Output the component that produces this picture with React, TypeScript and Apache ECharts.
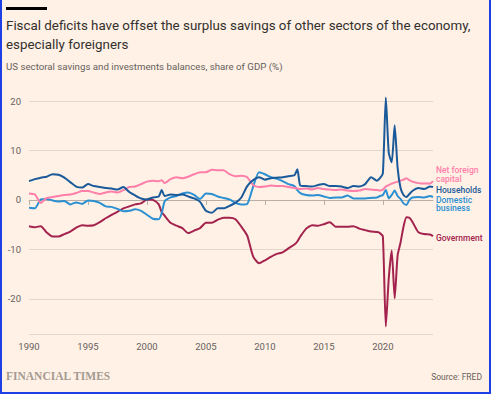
import React, { useEffect, useRef } from "react";
import * as echarts from "echarts";

const dates = [
  1990, 1990.5, 1991, 1991.5, 1992, 1992.5, 1993, 1993.5, 1994, 1994.5,
  1995, 1995.5, 1996, 1996.5, 1997, 1997.5, 1998, 1998.5, 1999, 1999.5,
  2000, 2000.5, 2001, 2001.25, 2001.5, 2002, 2002.5, 2003, 2003.5, 2004,
  2004.5, 2005, 2005.5, 2006, 2006.5, 2007, 2007.5, 2008, 2008.5, 2009,
  2009.5, 2010, 2010.5, 2011, 2011.5, 2012, 2012.5, 2012.75, 2013, 2013.5,
  2014, 2014.5, 2015, 2015.5, 2016, 2016.5, 2017, 2017.5, 2018, 2018.5,
  2019, 2019.5, 2019.75, 2020, 2020.25, 2020.5, 2020.75, 2021, 2021.25, 2021.5,
  2021.75, 2022, 2022.25, 2022.5, 2023, 2023.5, 2024, 2024.25,
];

const households = [
  3.8, 4.2, 4.5, 4.7, 5.2, 5.1, 4.5, 3.6, 2.7, 2.5,
  3.2, 2.8, 2.6, 2.4, 2.3, 2.1, 2.6, 1.6, 0.9, 0.3,
  0.1, 0.5, 0.7, 2.0, 0.8, 1.1, 1.0, 1.1, 0.7, 0.3,
  -0.4, -2.2, -2.6, -1.7, -1.7, -1.2, -0.6, 0.5, 2.8, 4.0,
  4.6, 4.1, 4.4, 4.5, 4.6, 4.8, 5.0, 6.2, 2.9, 2.8,
  2.7, 3.0, 3.2, 2.8, 2.8, 2.7, 2.4, 2.8, 2.7, 3.2,
  4.6, 3.9, 4.4, 5.4, 20.7, 9.5, 7.6, 15.1, 6.5, 2.4,
  1.0, 0.6, 1.2, 1.8, 2.4, 2.2, 2.7, 2.6,
];

const foreignCapital = [
  1.3, 1.1, -0.6, 0.4, 0.6, 0.8, 1.0, 1.1, 1.4, 1.8,
  1.8, 1.5, 1.2, 1.5, 1.7, 1.5, 2.0, 2.6, 2.7, 3.2,
  3.7, 3.9, 3.8, 4.0, 3.4, 4.2, 4.6, 4.4, 4.7, 5.2,
  5.6, 5.6, 6.1, 6.0, 6.0, 5.2, 4.8, 4.9, 4.6, 3.0,
  2.6, 2.7, 2.9, 2.8, 2.8, 2.6, 2.4, 2.3, 2.2, 2.3,
  2.1, 2.4, 2.2, 2.1, 2.0, 2.1, 1.9, 1.8, 1.9, 2.2,
  2.1, 2.0, 1.9, 2.1, 2.7, 3.0, 3.3, 3.5, 3.7, 3.9,
  4.1, 4.4, 4.0, 3.7, 3.4, 3.3, 3.3, 3.8,
];

const business = [
  -1.6, -1.7, 0.1, 0.2, -0.1, -0.3, -0.2, -0.9, -0.5, -0.8,
  -0.1, -0.2, -0.6, -1.3, -1.4, -1.8, -2.3, -2.2, -1.9, -2.2,
  -3.0, -3.8, -3.9, -2.7, -0.3, 0.5, 0.8, 1.3, 1.5, 1.0,
  0.2, 1.3, 1.2, 0.7, 0.4, 0.1, -0.6, -0.9, -0.8, 2.7,
  5.6, 5.2, 4.6, 4.3, 3.8, 3.2, 2.8, 2.0, 1.4, 1.0,
  0.9, 1.0, 0.7, 0.4, 0.5, 0.5, 0.9, 0.3, 0.3, 0.3,
  0.4, 0.5, 0.8, 1.0, 2.0, 0.3, 1.0, 1.9, 0.8, 0.2,
  -0.7, -1.0, 0.0, 0.5, 0.6, 0.5, 0.8, 0.6,
];

const government = [
  -5.3, -5.5, -5.3, -6.6, -7.4, -7.4, -6.9, -6.4, -5.6, -5.1,
  -5.2, -5.1, -4.5, -3.7, -3.0, -2.4, -1.7, -1.3, -0.9, -0.7,
  0.1, 0.0, -0.9, -2.5, -3.2, -4.6, -5.2, -5.7, -6.7, -6.2,
  -5.7, -4.6, -4.6, -4.0, -3.6, -3.6, -3.9, -5.4, -7.2, -11.4,
  -12.8, -12.2, -11.5, -10.9, -10.6, -9.8, -9.0, -8.4, -7.4, -5.8,
  -5.1, -5.2, -4.9, -4.5, -5.4, -5.4, -5.4, -5.3, -5.8, -6.1,
  -6.4, -6.5, -6.7, -7.4, -25.6, -15.8, -10.2, -19.9, -11.2, -8.6,
  -5.4, -3.5, -3.6, -4.4, -6.5, -6.9, -7.0, -7.3,
];

const yTicks = [-20, -10, 0, 10, 20];
const xTicks = [1990, 1995, 2000, 2005, 2010, 2015, 2020];

const COLORS = {
  foreign: "#FF7FAA",
  households: "#1A5A9A",
  business: "#2A90D2",
  government: "#A3234E",
};

const FONT = "Roboto, 'Noto Sans', sans-serif";

export default function App() {
  const ref = useRef<HTMLDivElement>(null);

  useEffect(() => {
    const chart = echarts.init(ref.current!, null, { renderer: "svg" });
    const pair = (vals: number[]) => dates.map((d, i) => [d, vals[i]]);
    const line = (name: string, vals: number[], color: string) => ({
      name,
      type: "line",
      data: pair(vals),
      showSymbol: false,
      smooth: 0.2,
      clip: false,
      lineStyle: { color, width: 2 },
      itemStyle: { color },
      z: 3,
    });

    chart.setOption({
      animation: false,
      backgroundColor: "#FFF1E5",
      grid: { left: 29, right: 58, top: 101, bottom: 60, containLabel: false },
      xAxis: {
        type: "value",
        min: 1990,
        max: 2024.25,
        interval: 5,
        splitLine: { show: false },
        axisLine: { show: true, lineStyle: { color: "#B9AFA6", width: 1 } },
        axisTick: {
          show: true,
          length: 5,
          customValues: xTicks,
          lineStyle: { color: "#B9AFA6" },
        },
        axisLabel: {
          customValues: xTicks,
          formatter: (v: number) => (xTicks.includes(v) ? String(v) : ""),
          color: "#66605C",
          fontFamily: FONT,
          fontSize: 9.5,
          margin: 7,
        },
      },
      yAxis: {
        type: "value",
        min: -27.1,
        max: 20,
        splitNumber: 5,
        axisLine: { show: false },
        axisTick: { show: false },
        splitLine: { show: true, lineStyle: { color: "#E3D6CB", width: 1 } },
        axisLabel: {
          formatter: (v: number) => (yTicks.includes(v) ? String(v) : ""),
          color: "#66605C",
          fontFamily: FONT,
          fontSize: 9.5,
          margin: 8,
        },
      },
      series: [
        line("Government", government, COLORS.government),
        line("Domestic business", business, COLORS.business),
        line("Net foreign capital", foreignCapital, COLORS.foreign),
        line("Households", households, COLORS.households),
      ],
      graphic: [
        { type: "rect", shape: { x: 6, y: 7, width: 41, height: 3 }, style: { fill: "#000" } },
        {
          type: "text",
          x: 6,
          y: 25,
          style: {
            text: "Fiscal deficits have offset the surplus savings of other sectors of the economy,",
            fill: "#33302E",
            fontFamily: FONT,
            fontSize: 13.35,
            verticalAlign: "middle",
          },
        },
        {
          type: "text",
          x: 6,
          y: 44,
          style: {
            text: "especially foreigners",
            fill: "#33302E",
            fontFamily: FONT,
            fontSize: 13.35,
            verticalAlign: "middle",
          },
        },
        {
          type: "text",
          x: 6,
          y: 66,
          style: {
            text: "US sectoral savings and investments balances, share of GDP (%)",
            fill: "#66605C",
            fontFamily: FONT,
            fontSize: 9.7,
            verticalAlign: "middle",
          },
        },
        {
          type: "text",
          x: 436,
          y: 174.5,
          style: {
            text: "Net foreign\ncapital",
            fill: COLORS.foreign,
            fontFamily: FONT,
            fontSize: 8.5,
            fontWeight: 500,
            lineHeight: 9,
            verticalAlign: "middle",
          },
        },
        {
          type: "text",
          x: 436,
          y: 189.5,
          style: {
            text: "Households",
            fill: COLORS.households,
            fontFamily: FONT,
            fontSize: 8.5,
            fontWeight: 500,
            verticalAlign: "middle",
          },
        },
        {
          type: "text",
          x: 436,
          y: 204,
          style: {
            text: "Domestic\nbusiness",
            fill: COLORS.business,
            fontFamily: FONT,
            fontSize: 8.5,
            fontWeight: 500,
            lineHeight: 8.5,
            verticalAlign: "middle",
          },
        },
        {
          type: "text",
          x: 436,
          y: 237.5,
          style: {
            text: "Government",
            fill: COLORS.government,
            fontFamily: FONT,
            fontSize: 8.5,
            fontWeight: 500,
            verticalAlign: "middle",
          },
        },
        {
          type: "text",
          x: 6,
          y: 376,
          style: {
            text: "FINANCIAL TIMES",
            fill: "#A39A92",
            fontFamily: "'Liberation Serif', 'DejaVu Serif', serif",
            fontSize: 11.5,
            fontWeight: "bold",
            verticalAlign: "middle",
          },
        },
        {
          type: "text",
          x: 482,
          y: 377,
          style: {
            text: "Source: FRED",
            fill: "#66605C",
            fontFamily: FONT,
            fontSize: 8.5,
            align: "right",
            verticalAlign: "middle",
          },
        },
        { type: "rect", shape: { x: 0, y: 0, width: 2, height: 394 }, style: { fill: "#1F3FE6" } },
        { type: "rect", shape: { x: 489, y: 0, width: 2, height: 394 }, style: { fill: "#1F3FE6" } },
        { type: "rect", shape: { x: 0, y: 392, width: 491, height: 2 }, style: { fill: "#1F3FE6" } },
      ],
    });

    return () => chart.dispose();
  }, []);

  return (
    <div
      ref={ref}
      style={{ position: "fixed", left: 0, top: 0, width: 491, height: 394, background: "#FFF1E5" }}
    />
  );
}
